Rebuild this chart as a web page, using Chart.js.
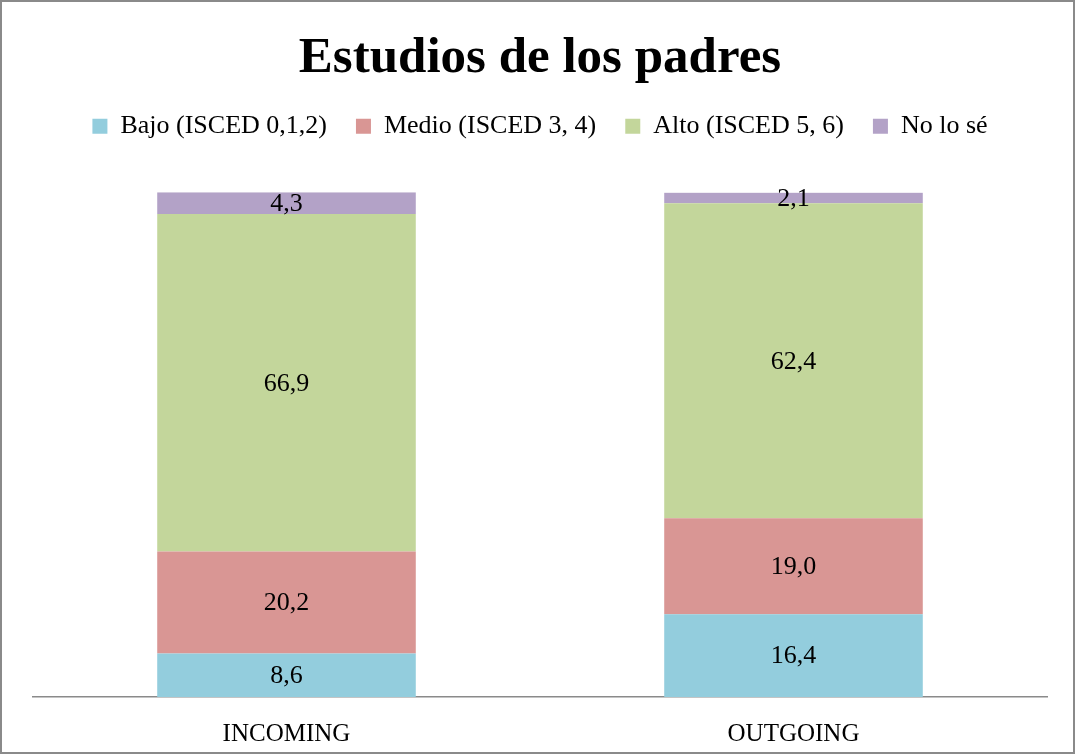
<!DOCTYPE html>
<html lang="es">
<head>
  <meta charset="UTF-8">
  <title>Estudios de los padres</title>
  <script src="https://cdn.jsdelivr.net/npm/chart.js"></script>
  <style>
    body { margin: 0; background: #fff; }
    #frame {
      position: absolute; left: 0; top: 0;
      width: 1075px; height: 754px;
      box-sizing: border-box;
      border: 2px solid #8a8a8a;
    }
    #myChart { position: absolute; left: 0; top: 0; }
  </style>
</head>
<body>
<div id="frame"></div>
<canvas id="myChart" width="1075" height="754"></canvas>

<script>
  const categories = ['INCOMING', 'OUTGOING'];
  const bajo = [8.6, 16.4];
  const medio = [20.2, 19.0];
  const alto = [66.9, 62.4];
  const noSe = [4.3, 2.1];

  const seriesNames = ['Bajo (ISCED 0,1,2)', 'Medio (ISCED 3, 4)', 'Alto (ISCED 5, 6)', 'No lo sé'];
  const seriesColors = ['#93cddd', '#d99694', '#c3d69b', '#b3a2c7'];

  const serif = "'Liberation Serif', 'DejaVu Serif', serif";

  // push plot area down below the legend
  const legendGap = {
    id: 'legendGap',
    beforeInit(chart) {
      const fit = chart.legend.fit;
      chart.legend.fit = function () {
        fit.bind(chart.legend)();
        this.height += 43;
      };
    }
  };

  // value labels centered in each segment
  const segLabels = {
    id: 'segLabels',
    afterDatasetsDraw(chart) {
      const ctx = chart.ctx;
      ctx.save();
      ctx.font = '26px ' + serif;
      ctx.fillStyle = '#000';
      ctx.textAlign = 'center';
      ctx.textBaseline = 'middle';
      chart.data.datasets.forEach((ds, i) => {
        chart.getDatasetMeta(i).data.forEach((bar, j) => {
          const v = ds.data[j];
          ctx.fillText(v.toFixed(1).replace('.', ','), bar.x, (bar.y + bar.base) / 2 + 1);
        });
      });
      ctx.restore();
    }
  };

  const values = [bajo, medio, alto, noSe];

  new Chart(document.getElementById('myChart'), {
    type: 'bar',
    data: {
      labels: categories,
      datasets: seriesNames.map((name, i) => ({
        label: name,
        data: values[i],
        backgroundColor: seriesColors[i],
        borderWidth: 0,
        barPercentage: 0.51,
        categoryPercentage: 1
      }))
    },
    options: {
      responsive: false,
      animation: false,
      layout: { padding: { left: 33, right: 28, top: 0, bottom: -9 } },
      plugins: {
        title: {
          display: true,
          text: 'Estudios de los padres',
          color: '#000',
          font: { family: serif, size: 51, weight: 'bold' },
          padding: { top: 28, bottom: -5 }
        },
        legend: {
          position: 'top',
          labels: {
            color: '#000',
            font: { family: serif, size: 26 },
            boxWidth: 15,
            boxHeight: 15,
            padding: 29
          }
        },
        tooltip: { enabled: false }
      },
      scales: {
        x: {
          stacked: true,
          grid: { display: false },
          border: { color: '#8a8a8a', width: 1.5 },
          ticks: { color: '#000', font: { family: serif, size: 25 }, padding: 14 }
        },
        y: {
          stacked: true,
          display: false,
          min: 0,
          max: 100
        }
      }
    },
    plugins: [legendGap, segLabels]
  });
</script>
</body>
</html>
